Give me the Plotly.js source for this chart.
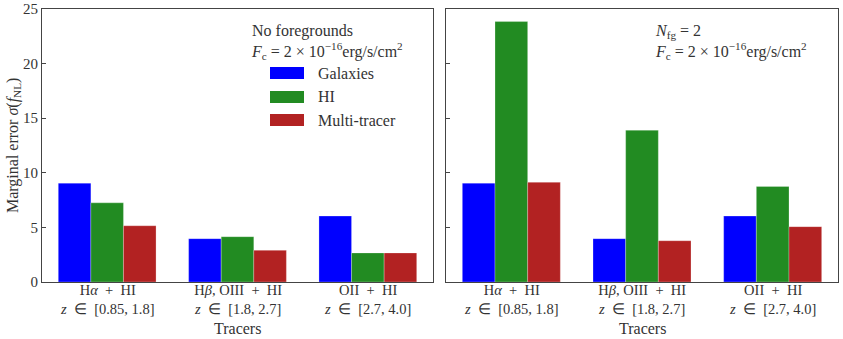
<!DOCTYPE html>
<html>
<head>
<meta charset="utf-8">
<script src="https://cdn.plot.ly/plotly-3.0.1.min.js"></script>
<style>
  html, body { margin: 0; padding: 0; background: #fff; }
  #container { width: 843px; height: 339px; }
</style>
</head>
<body>
<div id="container"></div>
<script>
// tracer groups (tick labels, two lines each)
var tracerNames = [
    'H<i>α</i>  +  HI',
    'H<i>β</i>, OIII  +  HI',
    'OII  +  HI'
];
var tracerRanges = [
    '<i>z</i>  ∈  [0.85, 1.8]',
    '<i>z</i>  ∈  [1.8, 2.7]',
    '<i>z</i>  ∈  [2.7, 4.0]'
];
var positions = [0, 1, 2];

// no foregrounds
var galaxiesNoFg = [9.05, 3.97, 6.04];
var hiNoFg       = [7.25, 4.15, 2.66];
var multiNoFg    = [5.15, 2.90, 2.66];

// N_fg = 2
var galaxiesFg = [9.05, 3.97, 6.04];
var hiFg       = [23.85, 13.9, 8.75];
var multiFg    = [9.13, 3.78, 5.07];

var seriesNames = ['Galaxies', 'HI', 'Multi-tracer'];
var colors = ['#0000ff', '#228b22', '#b22222'];

var W = 843, H = 339, T = 9, B = 57;
function px(x) { return x / W; }
function py(y) { return (H - B - y) / (H - T - B); }

var font = 'Liberation Serif, Times New Roman, serif';
var textColor = '#333';

function bars(vals, i, ax) {
    return {
        x: positions,
        y: vals,
        type: 'bar',
        name: seriesNames[i],
        xaxis: ax === 2 ? 'x2' : 'x',
        yaxis: ax === 2 ? 'y2' : 'y',
        marker: { color: colors[i], line: { color: 'rgba(255,255,255,0.5)', width: 0.5 } },
        showlegend: false,
        hoverinfo: 'y'
    };
}

var data = [
    bars(galaxiesNoFg, 0, 1), bars(hiNoFg, 1, 1), bars(multiNoFg, 2, 1),
    bars(galaxiesFg, 0, 2), bars(hiFg, 1, 2), bars(multiFg, 2, 2)
];

function xaxis(domain, anchor) {
    return {
        domain: domain,
        anchor: anchor,
        range: [-0.5, 2.5],
        tickvals: positions,
        showticklabels: false,
        ticks: '',
        showline: true, mirror: true, linecolor: '#444', linewidth: 1,
        showgrid: false, zeroline: false, fixedrange: true
    };
}
function yaxis(anchor, showLabels) {
    return {
        anchor: anchor,
        domain: [0, 1],
        range: [0, 25],
        dtick: 5,
        ticks: 'inside', ticklen: 4, tickcolor: '#444',
        showticklabels: showLabels,
        tickfont: { size: 15, color: textColor },
        showline: true, mirror: true, linecolor: '#444', linewidth: 1,
        showgrid: false, zeroline: false, fixedrange: true
    };
}

var layout = {
    width: W,
    height: H,
    margin: { l: 0, r: 0, t: T, b: B },
    paper_bgcolor: '#fff',
    plot_bgcolor: '#fff',
    font: { family: font, color: textColor },
    barmode: 'group',
    bargap: 0.25,
    bargroupgap: 0,
    xaxis: xaxis([px(42), px(433)], 'y'),
    xaxis2: xaxis([px(446), px(838)], 'y2'),
    yaxis: yaxis('x', true),
    yaxis2: yaxis('x2', false),
    shapes: [],
    annotations: [
        {
            xref: 'paper', yref: 'paper', x: px(13), y: py(146),
            xanchor: 'center', yanchor: 'middle',
            text: 'Marginal error <i>σ</i>(<i>f</i><sub>NL</sub>)',
            textangle: -90, showarrow: false,
            font: { size: 16, color: textColor }
        },
        {
            xref: 'paper', yref: 'paper', x: px(249), y: py(20),
            xanchor: 'left', yanchor: 'top', align: 'left',
            text: 'No foregrounds<br><i>F</i><sub>c</sub> = 2 × 10<sup>−16</sup>erg/s/cm<sup>2</sup>',
            showarrow: false, font: { size: 16, color: textColor }
        },
        {
            xref: 'paper', yref: 'paper', x: px(653), y: py(20),
            xanchor: 'left', yanchor: 'top', align: 'left',
            text: '<i>N</i><sub>fg</sub> = 2<br><i>F</i><sub>c</sub> = 2 × 10<sup>−16</sup>erg/s/cm<sup>2</sup>',
            showarrow: false, font: { size: 16, color: textColor }
        }
    ]
};

// tick labels under each group, and "Tracers" axis titles
['x', 'x2'].forEach(function (ax) {
    for (var j = 0; j < positions.length; j++) {
        layout.annotations.push({
            xref: ax, yref: 'paper', x: positions[j], y: py(280),
            xanchor: 'center', yanchor: 'top', align: 'center',
            text: tracerNames[j] + '<br>' + tracerRanges[j], showarrow: false,
            font: { size: 14.5, color: textColor }
        });
    }
    layout.annotations.push({
        xref: ax, yref: 'paper', x: 1, y: py(328),
        xanchor: 'center', yanchor: 'middle',
        text: 'Tracers', showarrow: false,
        font: { size: 16, color: textColor }
    });
});

// legend swatches and labels
var legendY = [73, 97, 120];
for (var i = 0; i < seriesNames.length; i++) {
    layout.shapes.push({
        type: 'rect', xref: 'paper', yref: 'paper',
        x0: px(270), x1: px(304), y0: py(legendY[i] - 6), y1: py(legendY[i] + 6),
        fillcolor: colors[i], line: { width: 0 }
    });
    layout.annotations.push({
        xref: 'paper', yref: 'paper', x: px(316), y: py(legendY[i]),
        xanchor: 'left', yanchor: 'middle',
        text: seriesNames[i], showarrow: false,
        font: { size: 16, color: textColor }
    });
}

Plotly.newPlot('container', data, layout, { displayModeBar: false, staticPlot: true });
</script>
</body>
</html>
